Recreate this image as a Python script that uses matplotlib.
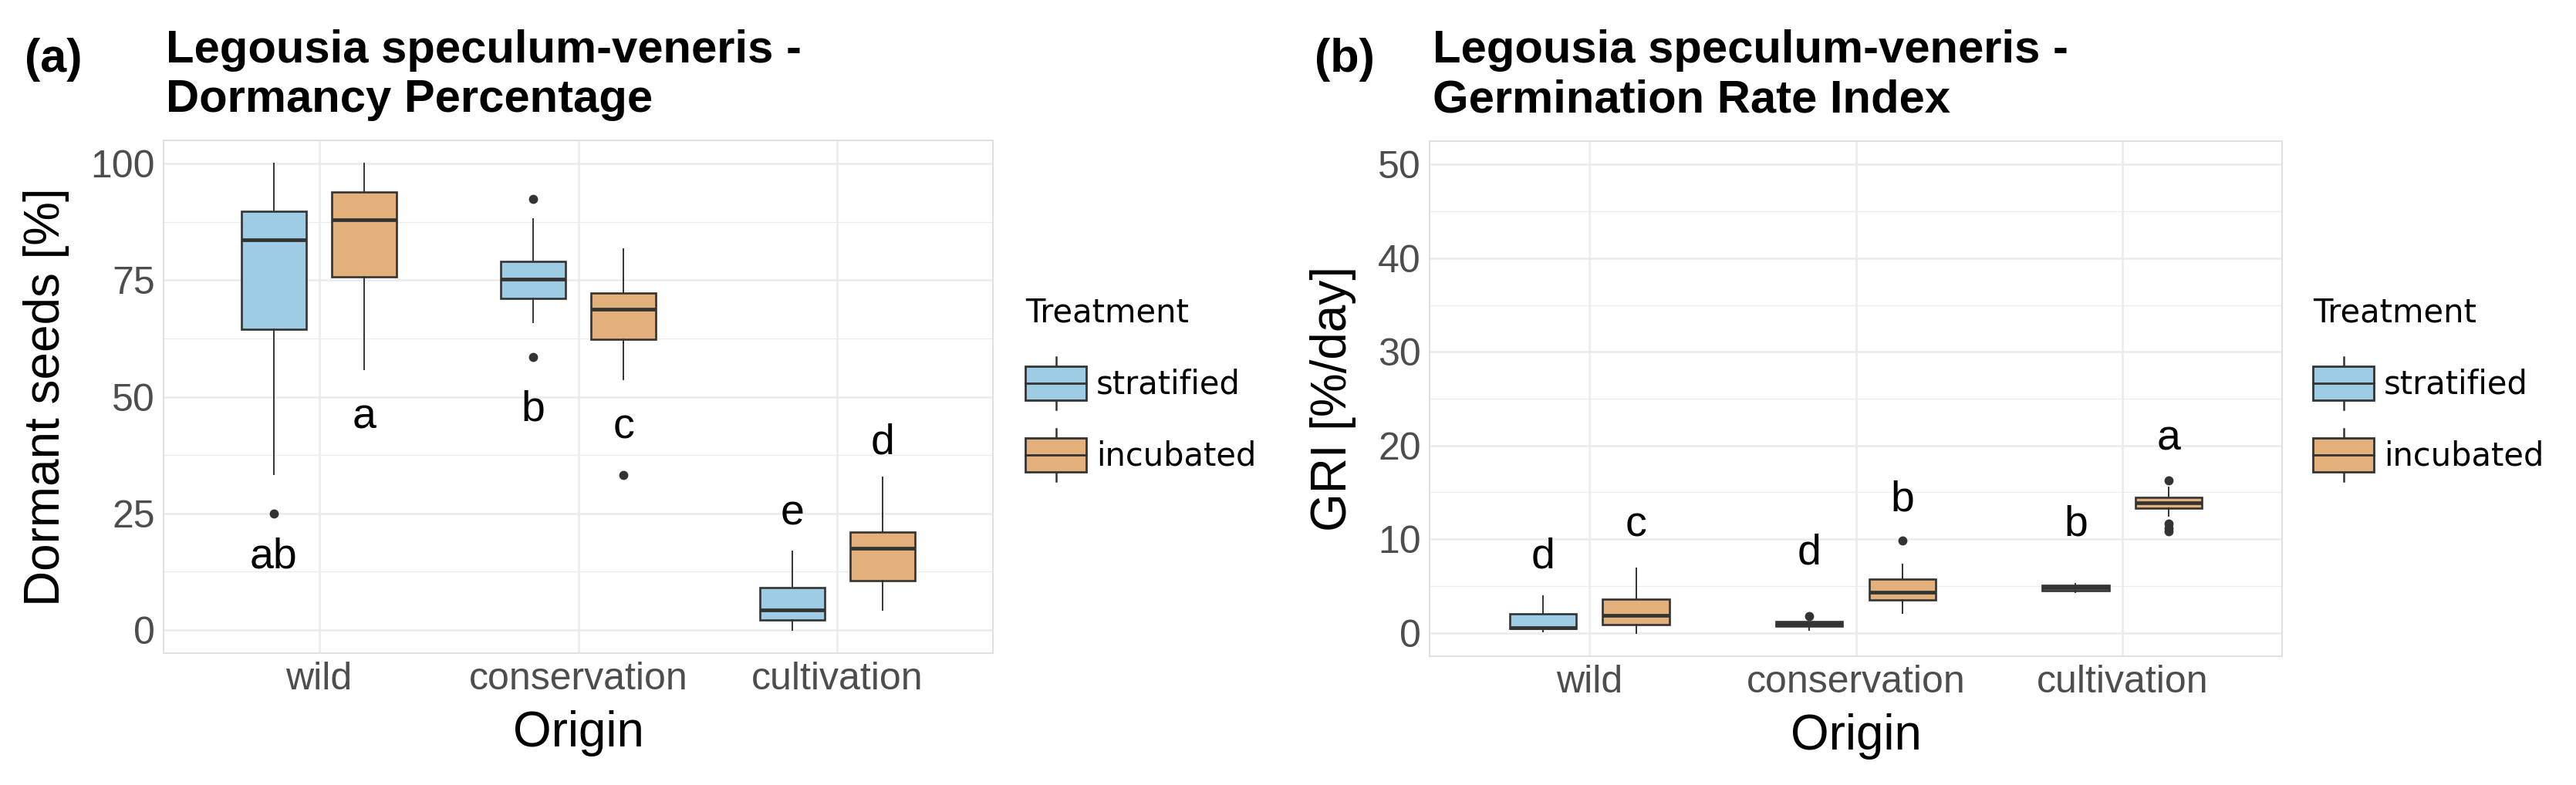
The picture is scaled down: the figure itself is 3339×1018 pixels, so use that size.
import matplotlib
matplotlib.use("Agg")
import matplotlib.pyplot as plt
from matplotlib.patches import Rectangle
from matplotlib.lines import Line2D
from matplotlib.legend_handler import HandlerBase

# Kategorien und Behandlungen
origins = ["wild", "conservation", "cultivation"]
treatments = ["stratified", "incubated"]
colors = ["#9DCCE4", "#E3AF7B"]

# (a) Dormanz in % - Boxplot-Kennwerte je Herkunft
dorm_strat_low = [33.4, 65.9, 0.0]
dorm_strat_q1 = [64.5, 71.1, 2.1]
dorm_strat_med = [83.7, 75.2, 4.2]
dorm_strat_q3 = [89.8, 79.1, 9.1]
dorm_strat_high = [100.0, 88.2, 16.9]
dorm_strat_out = [[25.0], [92.5, 58.5], []]

dorm_inc_low = [55.8, 53.8, 4.2]
dorm_inc_q1 = [75.7, 62.3, 10.5]
dorm_inc_med = [87.9, 68.7, 17.5]
dorm_inc_q3 = [93.9, 72.2, 21.0]
dorm_inc_high = [100.0, 81.6, 32.7]
dorm_inc_out = [[], [33.2], []]

dorm_letters_strat = ["ab", "b", "e"]
dorm_letters_inc = ["a", "c", "d"]
dorm_letter_y_strat = [13.2, 44.8, 22.5]
dorm_letter_y_inc = [43.2, 41.0, 37.8]

# (b) Germination Rate Index
gri_strat_low = [0.1, 0.33, 4.3]
gri_strat_q1 = [0.43, 0.71, 4.5]
gri_strat_med = [0.55, 0.95, 4.8]
gri_strat_q3 = [2.0, 1.2, 5.05]
gri_strat_high = [3.93, 1.2, 5.2]
gri_strat_out = [[], [1.8], []]

gri_inc_low = [0.0, 2.13, 12.5]
gri_inc_q1 = [0.9, 3.5, 13.3]
gri_inc_med = [1.86, 4.34, 13.9]
gri_inc_q3 = [3.63, 5.71, 14.5]
gri_inc_high = [6.9, 7.32, 15.5]
gri_inc_out = [[], [9.86], [16.3, 11.7, 11.2, 10.8]]

gri_letters_strat = ["d", "d", "b"]
gri_letters_inc = ["c", "b", "a"]
gri_letter_y_strat = [6.9, 7.3, 10.4]
gri_letter_y_inc = [10.3, 13.0, 19.5]

EDGE = "#333333"
GRID = "#EBEBEB"
OFF = 0.175
WIDTH = 0.25
ARIAL = "Liberation Sans"


def stats(low, q1, med, q3, high, out):
    return [dict(whislo=a, q1=b, med=c, q3=d, whishi=e, fliers=f)
            for a, b, c, d, e, f in zip(low, q1, med, q3, high, out)]


class BoxKey(HandlerBase):
    def create_artists(self, legend, orig_handle, xdescent, ydescent,
                       width, height, fontsize, trans):
        x0, y0 = -xdescent, -ydescent
        fc = orig_handle.get_facecolor()
        wl = Line2D([x0 + width / 2] * 2, [y0 - 0.27 * height, y0],
                    color=EDGE, lw=1.8, transform=trans)
        wh = Line2D([x0 + width / 2] * 2, [y0 + height, y0 + 1.27 * height],
                    color=EDGE, lw=1.8, transform=trans)
        box = Rectangle((x0, y0), width, height, facecolor=fc,
                        edgecolor=EDGE, lw=2.0, transform=trans)
        med = Line2D([x0, x0 + width], [y0 + height / 2] * 2,
                     color=EDGE, lw=2.0, transform=trans)
        return [wl, wh, box, med]


def panel(ax, st_strat, st_inc, let_s, ly_s, let_i, ly_i, ymax, major, minor):
    for st, col, sgn in [(st_strat, colors[0], -1), (st_inc, colors[1], 1)]:
        pos = [i + sgn * OFF for i in range(len(origins))]
        ax.bxp(st, positions=pos, widths=WIDTH, patch_artist=True,
               showcaps=False,
               boxprops=dict(facecolor=col, edgecolor=EDGE, linewidth=1.9),
               medianprops=dict(color=EDGE, linewidth=3.4),
               whiskerprops=dict(color=EDGE, linewidth=1.4),
               flierprops=dict(marker="o", markersize=7.5, markerfacecolor=EDGE,
                               markeredgecolor=EDGE),
               zorder=3)
    for i in range(len(origins)):
        ax.text(i - OFF, ly_s[i], let_s[i], ha="center", va="baseline",
                fontsize=40, family=ARIAL, zorder=4)
        ax.text(i + OFF, ly_i[i], let_i[i], ha="center", va="baseline",
                fontsize=40, family=ARIAL, zorder=4)
    ax.set_xlim(-0.6, len(origins) - 0.4)
    ax.set_ylim(-0.05 * ymax, 1.05 * ymax)
    ax.set_xticks(range(len(origins)))
    ax.set_xticklabels(origins)
    ax.set_yticks(major)
    ax.set_yticks(minor, minor=True)
    ax.grid(True, which="major", color=GRID, lw=1.8, zorder=0)
    ax.grid(True, which="minor", axis="y", color=GRID, lw=0.9, zorder=0)
    ax.set_axisbelow(True)
    ax.tick_params(which="both", length=0, labelsize=36, labelcolor="#4D4D4D",
                   pad=8)
    for lab in ax.get_xticklabels() + ax.get_yticklabels():
        lab.set_family(ARIAL)
    for s in ax.spines.values():
        s.set_color("#E0E0E0")
        s.set_linewidth(1.5)
    ax.set_xlabel("Origin", fontsize=46, family=ARIAL, labelpad=12)


fig = plt.figure(figsize=(33.39, 10.18), dpi=100)
ax1 = fig.add_axes([212 / 3339, 1 - 847 / 1018, 1075 / 3339, 665 / 1018])
ax2 = fig.add_axes([1853 / 3339, 1 - 851 / 1018, 1105 / 3339, 668 / 1018])

panel(ax1,
      stats(dorm_strat_low, dorm_strat_q1, dorm_strat_med, dorm_strat_q3, dorm_strat_high, dorm_strat_out),
      stats(dorm_inc_low, dorm_inc_q1, dorm_inc_med, dorm_inc_q3, dorm_inc_high, dorm_inc_out),
      dorm_letters_strat, dorm_letter_y_strat, dorm_letters_inc, dorm_letter_y_inc,
      100, [0, 25, 50, 75, 100], [12.5, 37.5, 62.5, 87.5])
ax1.set_ylabel("Dormant seeds [%]", fontsize=46, family=ARIAL, labelpad=20)

panel(ax2,
      stats(gri_strat_low, gri_strat_q1, gri_strat_med, gri_strat_q3, gri_strat_high, gri_strat_out),
      stats(gri_inc_low, gri_inc_q1, gri_inc_med, gri_inc_q3, gri_inc_high, gri_inc_out),
      gri_letters_strat, gri_letter_y_strat, gri_letters_inc, gri_letter_y_inc,
      50, [0, 10, 20, 30, 40, 50], [5, 15, 25, 35, 45])
ax2.set_ylabel("GRI [%/day]", fontsize=46, family=ARIAL, labelpad=20)

# Titel und Panel-Buchstaben
fig.text(215 / 3339, 1 - 145 / 1018, "Legousia speculum-veneris -\nDormancy Percentage",
         fontsize=43, fontweight="bold", family=ARIAL, va="baseline")
fig.text(1857 / 3339, 1 - 145 / 1018, "Legousia speculum-veneris -\nGermination Rate Index",
         fontsize=43, fontweight="bold", family=ARIAL, va="baseline")
fig.text(32 / 3339, 1 - 78 / 1018, "(a)", fontsize=44, fontweight="bold",
         family=ARIAL, va="center")
fig.text(1704 / 3339, 1 - 78 / 1018, "(b)", fontsize=44, fontweight="bold",
         family=ARIAL, va="center")

# Legenden
handles = [Rectangle((0, 0), 1, 1, facecolor=c) for c in colors]
for x in [1329, 2998]:
    fig.legend(handles, treatments, title="Treatment", loc="upper left",
               bbox_to_anchor=(x / 3339, 1 - 385 / 1018), frameon=False,
               fontsize=30, title_fontsize=30, alignment="left",
               handler_map={Rectangle: BoxKey()}, handlelength=1.9,
               handleheight=1.25, labelspacing=1.15, handletextpad=0.3,
               borderpad=0, borderaxespad=0)

fig.savefig("out.png", dpi=100)
